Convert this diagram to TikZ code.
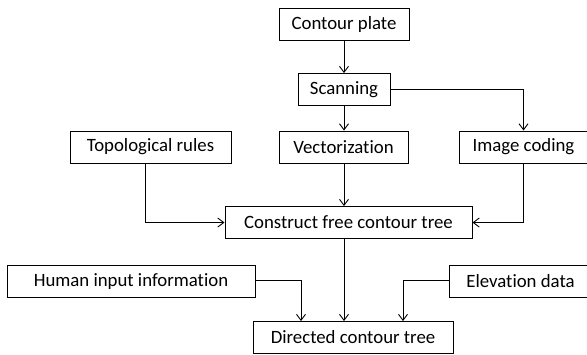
\documentclass[tikz,border=0pt]{standalone}
\usepackage{fontspec}
\setmainfont[Ligatures=NoCommon]{Carlito}
\usetikzlibrary{arrows.meta}
\tikzset{
  box/.style={draw=black, line width=1pt, fill=white, inner sep=0pt,
    font=\fontsize{18.8}{22}\selectfont, text=black, minimum height=32pt},
  arr/.style={draw=black, line width=1pt, -{Straight Barb[length=6pt,width=9pt,line width=0.9pt]}}
}
\begin{document}
\begin{tikzpicture}[x=1pt,y=-1pt]
\useasboundingbox (0,0) rectangle (587,354);
\node[box, minimum width=130pt] (cp) at (344,24.5) {Contour plate};
\node[box, minimum width=92pt] (scan) at (344,89.5) {Scanning};
\node[box, minimum width=161pt] (topo) at (150.5,147) {Topological rules};
\node[box, minimum width=129pt] (vec) at (343.5,147) {Vectorization};
\node[box, minimum width=129pt] (img) at (523.5,147) {Image coding};
\node[box, minimum width=247pt] (cons) at (348.5,222.5) {Construct free contour tree};
\node[box, minimum width=248pt] (hum) at (131,281.5) {Human input information};
\node[box, minimum width=143pt] (elev) at (520.5,281.5) {Elevation data};
\node[box, minimum width=200pt] (dir) at (353,337.5) {Directed contour tree};

\draw[arr] (cp.south) -- (scan.north);
\draw[arr] (scan.south) -- (scan.south |- vec.north);
\draw[arr] (scan.east) -| (img.north);
\draw[arr] ([xshift=-5.5pt]topo.south) |- (cons.west);
\draw[arr] (vec.south -| scan.south) -- (cons.north -| scan.south);
\draw[arr] (img.south) |- (cons.east);
\draw[arr] (cons.south -| scan.south) -- (dir.north -| scan.south);
\draw[arr] ([yshift=1.5pt]hum.east) -| ([xshift=-52pt]dir.north);
\draw[arr] ([yshift=1.5pt]elev.west) -| ([xshift=50pt]dir.north);
\end{tikzpicture}
\end{document}
